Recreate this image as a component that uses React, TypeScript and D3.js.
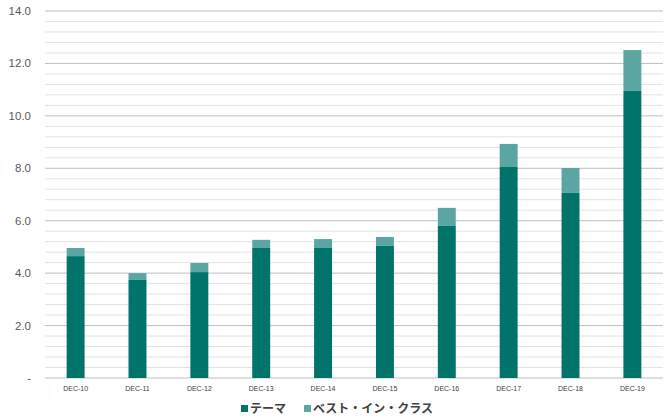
import * as d3 from "d3"

const categories = ["DEC-10", "DEC-11", "DEC-12", "DEC-13", "DEC-14", "DEC-15", "DEC-16", "DEC-17", "DEC-18", "DEC-19"]
const themeValues = [4.65, 3.74, 4.04, 4.96, 4.96, 5.04, 5.8, 8.05, 7.06, 10.95]
const bestInClassValues = [0.31, 0.26, 0.35, 0.31, 0.34, 0.34, 0.69, 0.88, 0.95, 1.56]
const seriesNames = ["テーマ", "ベスト・イン・クラス"]
const seriesColors = ["#00736b", "#5ba5a3"]
const yTicks = [0, 2, 4, 6, 8, 10, 12, 14]

export default function App() {
  const width = 669
  const height = 419
  const margin = { top: 11, right: 6, bottom: 41, left: 45 }
  const innerW = width - margin.left - margin.right
  const innerH = height - margin.top - margin.bottom

  const x = d3.scaleBand().domain(categories).range([0, innerW]).paddingInner(0.71).paddingOuter(0.35)
  const y = d3.scaleLinear().domain([0, 14]).range([innerH, 0])

  const rows = categories.map((c, i) => ({ cat: c, theme: themeValues[i], best: bestInClassValues[i] }))
  const stack = d3.stack<any>().keys(["theme", "best"])(rows)

  // minor gridlines every 0.4, skipping the major 2.0 steps
  const minor = d3.range(0, 14.01, 0.4).filter((v) => Math.abs(v / 2 - Math.round(v / 2)) > 0.01)

  const fontFamily = "'Liberation Sans', Arial, sans-serif"
  const jpFont = "'Noto Sans CJK JP', sans-serif"

  return (
    <svg width={width} height={height} style={{ position: "absolute", left: 0, top: 0, background: "#fff" }}>
      <g transform={`translate(${margin.left},${margin.top})`}>
        {minor.map((v) => (
          <line key={"m" + v} x1={0} x2={innerW} y1={y(v)} y2={y(v)} stroke="#e3e3e3" strokeWidth={1} />
        ))}
        {yTicks.map((v) => (
          <line key={"g" + v} x1={0} x2={innerW} y1={y(v)} y2={y(v)} stroke="#bfbfbf" strokeWidth={1} />
        ))}
        {yTicks.map((v) => (
          <text
            key={"t" + v}
            x={-14}
            y={y(v)}
            dy="0.35em"
            textAnchor="end"
            fontSize={11.5}
            fill="#595959"
            fontFamily={fontFamily}
          >
            {v === 0 ? "-" : v.toFixed(1)}
          </text>
        ))}
        {stack.map((s, si) =>
          s.map((d: any, i: number) => (
            <rect
              key={si + "-" + i}
              x={x(categories[i])!}
              y={y(d[1])}
              width={x.bandwidth()}
              height={y(d[0]) - y(d[1])}
              fill={seriesColors[si]}
            />
          )),
        )}
        {categories.map((c) => (
          <text
            key={c}
            x={x(c)! + x.bandwidth() / 2}
            y={innerH + 13}
            textAnchor="middle"
            fontSize={7}
            fill="#404040"
            fontFamily={fontFamily}
          >
            {c}
          </text>
        ))}
      </g>
      <g transform={`translate(241,${height - 10})`}>
        <rect x={0} y={-4} width={7} height={7} fill={seriesColors[0]} />
        <text x={9} y={0} dy="0.35em" fontSize={12} fontWeight="bold" fill="#404040" fontFamily={jpFont}>
          {seriesNames[0]}
        </text>
        <rect x={63} y={-4} width={7} height={7} fill={seriesColors[1]} />
        <text x={72} y={0} dy="0.35em" fontSize={12} fontWeight="bold" fill="#404040" fontFamily={jpFont}>
          {seriesNames[1]}
        </text>
      </g>
    </svg>
  )
}
